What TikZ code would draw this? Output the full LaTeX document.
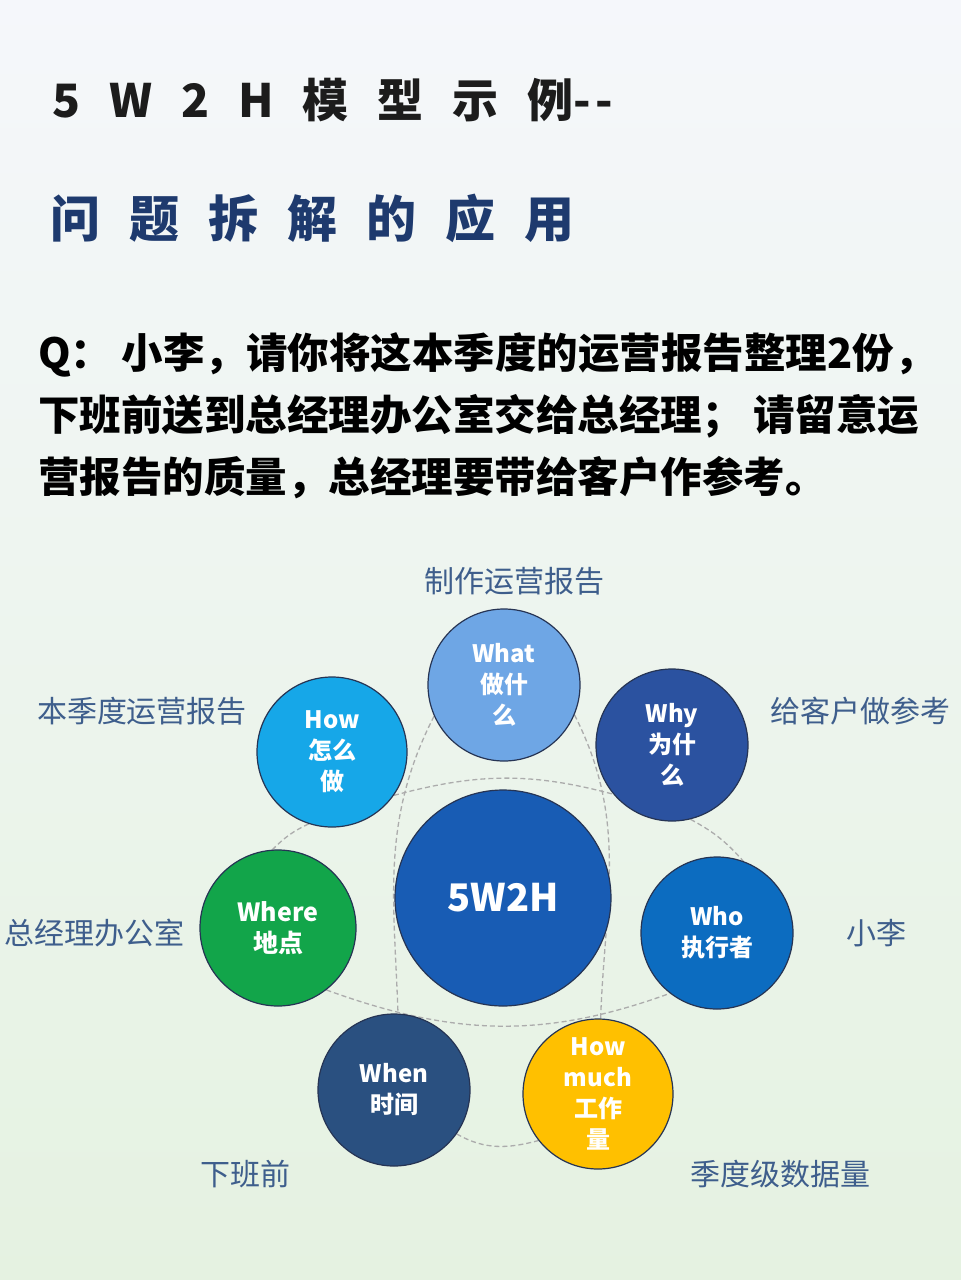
\documentclass[tikz,border=0pt]{standalone}
\usepackage{fontspec}
\setmainfont{Noto Sans CJK SC}
\usepackage{xcolor}
\usepackage{tikz}
\usetikzlibrary{positioning, backgrounds}
\definecolor{bgTop}{RGB}{245,247,251}
\definecolor{bgBot}{RGB}{229,242,225}
\definecolor{tagBlue}{RGB}{62,94,140}
\definecolor{titleNavy}{RGB}{30,58,110}
\definecolor{cWhat}{RGB}{110,166,229}
\definecolor{cWhy}{RGB}{43,82,160}
\definecolor{cHow}{RGB}{22,167,232}
\definecolor{cCore}{RGB}{24,92,180}
\definecolor{cWhere}{RGB}{18,165,74}
\definecolor{cWho}{RGB}{12,108,192}
\definecolor{cWhen}{RGB}{42,80,128}
\definecolor{cMuch}{RGB}{255,192,0}
\definecolor{rim}{RGB}{38,52,84}
\newcommand{\gapsp}{\hspace{29pt}}
\tikzset{
    bubble/.style={circle, draw=rim, line width=1.2pt, minimum size=152pt, inner sep=0pt, align=center, text=white, font=\fontsize{24}{31}\selectfont\bfseries},
    core/.style={bubble, minimum size=216pt, font=\fontsize{38}{44}\selectfont\bfseries},
    tag/.style={text=tagBlue, font=\fontsize{30}{34}\selectfont, inner sep=0pt},
    link/.style={draw=gray!65, line width=1.3pt, dash pattern=on 5pt off 3pt},
    headline/.style={anchor=west, inner sep=0pt, font=\fontsize{46}{50}\selectfont\bfseries},
    question/.style={anchor=north west, inner sep=0pt, align=left, font=\fontsize{41.5}{62}\selectfont\bfseries}
}
\begin{document}
\begin{tikzpicture}[x=1pt, y=-1pt]
    \begin{scope}[on background layer]
        \fill[top color=bgTop, bottom color=bgBot] (0,0) rectangle (961,1280);
    \end{scope}
    \useasboundingbox (0,0) rectangle (961,1280);

    % heading and question
    \node[headline, text={rgb,255:red,28;green,28;blue,28}] (Title) at (52,100) {5\gapsp W\gapsp 2\gapsp H\gapsp 模\gapsp 型\gapsp 示\gapsp 例{-}\hspace{4pt}{-}};
    \node[headline, text=titleNavy, font=\fontsize{50}{54}\selectfont\bfseries] (Subtitle) at (50,218) {问\gapsp 题\gapsp 拆\gapsp 解\gapsp 的\gapsp 应\gapsp 用};
    \node[question] (Question) at (38,332) {Q： 小李，请你将这本季度的运营报告整理2份，\\下班前送到总经理办公室交给总经理； 请留意运\\营报告的质量，总经理要带给客户作参考。};

    % bubbles
    \node[core, fill=cCore] (Core) at (503,898) {5W2H};
    \node[bubble, fill=cWhat] (What) at (504,685) {What\\做什\\么};
    \node[bubble, fill=cWhy] (Why) at (672,745) {Why\\为什\\么};
    \node[bubble, fill=cWho] (Who) at (717,933) {Who\\执行者};
    \node[bubble, fill=cMuch, minimum size=150pt] (HowMuch) at (598,1094) {How\\much\\工作\\量};
    \node[bubble, fill=cWhen] (When) at (394,1090) {When\\时间};
    \node[bubble, fill=cWhere, minimum size=156pt, font=\fontsize{25}{31}\selectfont\bfseries] (Where) at (278,928) {Where\\地点};
    \node[bubble, fill=cHow, minimum size=150pt] (How) at (332,752) {How\\怎么\\做};

    % answers
    \node[tag] (WhatTag) at (514,581) {制作运营报告};
    \node[tag] (WhyTag) at (860,711) {给客户做参考};
    \node[tag] (WhoTag) at (876,933) {小李};
    \node[tag] (MuchTag) at (780,1174) {季度级数据量};
    \node[tag] (WhenTag) at (245,1174) {下班前};
    \node[tag] (WhereTag) at (95,933) {总经理办公室};
    \node[tag] (HowTag) at (142,711) {本季度运营报告};

    % dashed ties
    \begin{scope}[on background layer]
        \draw[link] (What.204) to[out=243, in=92] (When.87);
        \draw[link] (What.-23) to[out=-63, in=88] (HowMuch.88);
        \draw[link] (How.-35) to[out=15, in=165] (Why.-140);
        \draw[link] (Where.-52) to[out=-20, in=200] (Who.-128);
        \draw[link] (How.252) to[bend right=10] (Where.94);
        \draw[link] (Why.-76) to[bend left=10] (Who.70);
        \draw[link] (When.-35) to[out=-30, in=195] (HowMuch.218);
    \end{scope}
\end{tikzpicture}
\end{document}
